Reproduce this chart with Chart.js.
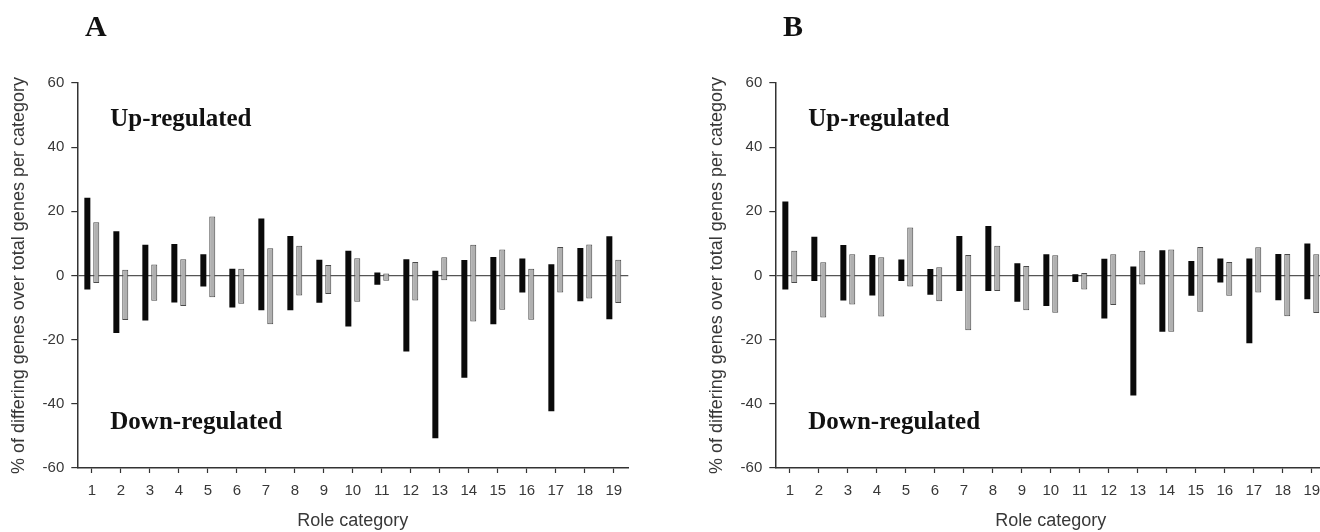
<!DOCTYPE html>
<html>
<head>
<meta charset="utf-8">
<script src="https://cdn.jsdelivr.net/npm/chart.js@4.4.1/dist/chart.umd.min.js"></script>
<style>
  html, body { margin: 0; padding: 0; background: #fff; overflow: hidden; width: 1320px; height: 532px; }
  .wrap { position: absolute; top: 0; width: 660px; height: 532px; }
  .panel-letter { position: absolute; font-family: "Liberation Serif", "Times New Roman", serif; font-weight: bold; font-size: 30px; color: #111; line-height: 1; }
</style>
</head>
<body>
<div class="wrap" style="left:0px"><canvas id="chartA" width="660" height="532"></canvas></div>
<div class="wrap" style="left:698px"><canvas id="chartB" width="660" height="532"></canvas></div>
<div class="panel-letter" style="left:85px; top:11px;">A</div>
<div class="panel-letter" style="left:783px; top:11px;">B</div>
<script>
// ---- Data ----
const categories = ['1','2','3','4','5','6','7','8','9','10','11','12','13','14','15','16','17','18','19'];

// Panel A: black bars (upper end, lower end)
const aBlackHigh = [24.2, 13.8, 9.6, 9.8, 6.6, 2.1, 17.8, 12.3, 4.9, 7.7, 0.9, 5.1, 1.5, 4.8, 5.8, 5.3, 3.5, 8.6, 12.2];
const aBlackLow  = [-4.4, -17.9, -14.0, -8.4, -3.4, -10.0, -10.8, -10.8, -8.5, -15.9, -2.9, -23.7, -50.7, -31.9, -15.2, -5.3, -42.3, -8.0, -13.6];
// Panel A: grey bars
const aGreyHigh  = [16.6, 1.8, 3.4, 5.1, 18.4, 2.1, 8.5, 9.3, 3.3, 5.4, 0.6, 4.2, 5.7, 9.6, 8.1, 2.1, 8.9, 9.7, 4.9];
const aGreyLow   = [-2.3, -13.9, -7.9, -9.5, -6.8, -8.8, -15.2, -6.2, -5.8, -8.2, -1.6, -7.8, -1.5, -14.3, -10.7, -13.8, -5.3, -7.2, -8.6];

// Panel B: black bars
const bBlackHigh = [23.1, 12.1, 9.5, 6.4, 5.0, 2.0, 12.3, 15.4, 3.8, 6.6, 0.4, 5.2, 2.8, 7.9, 4.5, 5.3, 5.3, 6.7, 10.0];
const bBlackLow  = [-4.4, -1.7, -7.8, -6.2, -1.7, -6.0, -4.8, -4.8, -8.2, -9.5, -2.0, -13.4, -37.4, -17.5, -6.3, -2.2, -21.1, -7.7, -7.4];
// Panel B: grey bars
const bGreyHigh  = [7.7, 4.1, 6.6, 5.7, 15.0, 2.6, 6.4, 9.3, 3.0, 6.3, 0.8, 6.6, 7.7, 8.1, 8.9, 4.2, 8.8, 6.7, 6.6];
const bGreyLow   = [-2.3, -13.1, -9.0, -12.8, -3.4, -8.0, -17.1, -4.8, -10.8, -11.6, -4.4, -9.2, -2.8, -17.5, -11.3, -6.3, -5.3, -12.7, -11.7];

const yTicks = [-60, -40, -20, 0, 20, 40, 60];
const yAxisTitle = '% of differing genes over total genes per category';
const xAxisTitle = 'Role category';
const upLabel = 'Up-regulated';
const downLabel = 'Down-regulated';

// ---- Helpers ----
function ranges(lo, hi) { return lo.map((v, i) => [v, hi[i]]); }

const textColor = '#383838';
const axisColor = '#333';

const annotatePlugin = {
  id: 'annot',
  afterDatasetsDraw(chart) {
    const {ctx, chartArea, scales} = chart;
    ctx.save();
    ctx.fillStyle = '#111';
    ctx.font = 'bold 25px "Liberation Serif", "Times New Roman", serif';
    ctx.textBaseline = 'alphabetic';
    ctx.textAlign = 'left';
    ctx.fillText(upLabel, chartArea.left + 33, scales.y.getPixelForValue(46.6));
    ctx.fillText(downLabel, chartArea.left + 33, scales.y.getPixelForValue(-47.8));
    ctx.restore();
  }
};

function makeChart(id, blackLo, blackHi, greyLo, greyHi) {
  return new Chart(document.getElementById(id), {
    type: 'bar',
    data: {
      labels: categories,
      datasets: [
        {
          label: 'black',
          data: ranges(blackLo, blackHi),
          backgroundColor: '#0a0a0a',
          borderColor: '#0a0a0a',
          borderWidth: 0,
          borderSkipped: false,
          categoryPercentage: 0.614,
          barPercentage: 0.674
        },
        {
          label: 'grey',
          data: ranges(greyLo, greyHi),
          backgroundColor: '#b0b0b0',
          borderColor: '#4a4a4a',
          borderWidth: 1,
          borderSkipped: false,
          categoryPercentage: 0.614,
          barPercentage: 0.674
        }
      ]
    },
    options: {
      responsive: false,
      animation: false,
      events: [],
      layout: { padding: { left: 0, right: 31.7, top: 83, bottom: 0 } },
      plugins: { legend: { display: false }, tooltip: { enabled: false } },
      scales: {
        x: {
          type: 'category',
          offset: true,
          grid: { display: true, offset: false, drawOnChartArea: false, color: 'transparent', tickColor: axisColor, tickLength: 5, tickWidth: 1.2 },
          border: { display: true, color: axisColor, width: 1.5 },
          ticks: { color: textColor, font: { family: '"Liberation Sans", Arial, sans-serif', size: 15 }, padding: 9, maxRotation: 0, autoSkip: false },
          title: { display: true, text: xAxisTitle, color: textColor, font: { family: '"Liberation Sans", Arial, sans-serif', size: 18 }, padding: { top: 0, bottom: 0 } },
          afterFit(s) { s.height = 64; }
        },
        y: {
          min: -60, max: 60,
          afterBuildTicks(s) { s.ticks = yTicks.map(v => ({ value: v })); },
          grid: {
            display: true,
            drawOnChartArea: true,
            color: (c) => (c.tick && c.tick.value === 0) ? '#555' : 'transparent',
            lineWidth: 1.2,
            tickColor: axisColor,
            tickLength: 6,
            tickWidth: 1.2
          },
          border: { display: true, color: axisColor, width: 1.5 },
          ticks: { color: textColor, font: { family: '"Liberation Sans", Arial, sans-serif', size: 15 }, padding: 7 },
          title: { display: true, text: yAxisTitle, color: textColor, font: { family: '"Liberation Sans", Arial, sans-serif', size: 18 }, padding: { top: 8, bottom: 0 } },
          afterFit(s) { s.width = 77.3; }
        }
      }
    },
    plugins: [annotatePlugin]
  });
}

makeChart('chartA', aBlackLow, aBlackHigh, aGreyLow, aGreyHigh);
makeChart('chartB', bBlackLow, bBlackHigh, bGreyLow, bGreyHigh);
</script>
</body>
</html>
